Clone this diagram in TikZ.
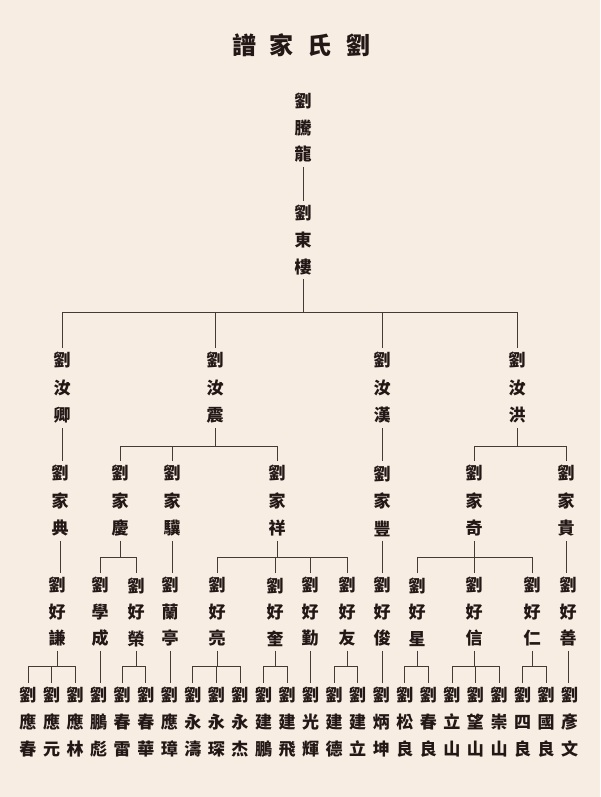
\documentclass[tikz,border=0pt]{standalone}
\usepackage{fontspec}
\usepackage{tikz}
\usepackage[dvipsnames]{xcolor}
\newfontfamily\cjk{Noto Sans CJK TC}
\definecolor{paper}{HTML}{F7EDE3}
\definecolor{ink}{HTML}{231815}
\tikzset{person/.style = {font=\cjk\bfseries\fontsize{17}{#1}\selectfont, text=ink, align=center, inner sep=4pt}, person/.default=27}
\tikzset{kin/.style = {draw=ink!85, line width=0.8pt}}
% parent, bar height, children
\newcommand{\branch}[3]{%
  \draw [kin] (#1.south) -- (#1.south |- 0,#2);
  \foreach \c in {#3} \draw [kin] (\c.north) |- (#1.south |- 0,#2);}
% parent, only child
\newcommand{\single}[2]{\draw [kin] (#1.south) -- (#1.south |- #2.north);}

\begin{document}
\begin{tikzpicture}[x=1pt,y=-1pt]
        \fill [paper] (0,0) rectangle (600,797);
        \useasboundingbox (0,0) rectangle (600,797);
        \node [text=ink, font=\cjk\bfseries\fontsize{24}{24}\selectfont] (title) at (301,45) {譜\hspace{14pt}家\hspace{14pt}氏\hspace{14pt}劉};
        \node [person=26.5] (tenglong) at (303,128) {劉\\騰\\龍};
        \node [person=27] (donglou) at (303,240) {劉\\東\\樓};
        \single{tenglong}{donglou}
        % first generation
        \node [person=27.5] (ruqing) at (62,388) {劉\\汝\\卿};
        \node [person=27.5] (ruzhen) at (215,388) {劉\\汝\\震};
        \node [person=27.5] (ruhan) at (382,388) {劉\\汝\\漢};
        \node [person=27.5] (ruhong) at (517,388) {劉\\汝\\洪};
        \branch{donglou}{312}{ruqing,ruzhen,ruhan,ruhong}
        % second generation
        \node [person=27.5] (jiadian) at (60,501) {劉\\家\\典};
        \node [person=27.5] (jiaqing) at (120,501) {劉\\家\\慶};
        \node [person=27.5] (jiaji) at (172,501) {劉\\家\\驥};
        \node [person=27.5] (jiaxiang) at (277,501) {劉\\家\\祥};
        \node [person=27.5] (jiafeng) at (382,501) {劉\\家\\豐};
        \node [person=27.5] (jiaqi) at (474,501) {劉\\家\\奇};
        \node [person=27.5] (jiagui) at (566,501) {劉\\家\\貴};
        \single{ruqing}{jiadian}
        \branch{ruzhen}{446}{jiaqing,jiaji,jiaxiang}
        \single{ruhan}{jiafeng}
        \branch{ruhong}{446}{jiaqi,jiagui}
        % third generation
        \node [person=26.5] (haoqian) at (57,612) {劉\\好\\謙};
        \node [person=26.5] (xuecheng) at (100,612) {劉\\學\\成};
        \node [person=26.5] (haorong) at (136,612) {劉\\好\\榮};
        \node [person=26.5] (lanting) at (170,612) {劉\\蘭\\亭};
        \node [person=26.5] (haoliang) at (217,612) {劉\\好\\亮};
        \node [person=26.5] (haokui) at (275,612) {劉\\好\\奎};
        \node [person=26.5] (haoqin) at (310,612) {劉\\好\\勤};
        \node [person=26.5] (haoyou) at (347,612) {劉\\好\\友};
        \node [person=26.5] (haojun) at (382,612) {劉\\好\\俊};
        \node [person=26.5] (haoxing) at (417,612) {劉\\好\\星};
        \node [person=26.5] (haoxin) at (474,612) {劉\\好\\信};
        \node [person=26.5] (haoren) at (532,612) {劉\\好\\仁};
        \node [person=26.5] (haoshan) at (568,612) {劉\\好\\善};
        \single{jiadian}{haoqian}
        \branch{jiaqing}{557}{xuecheng,haorong}
        \single{jiaji}{lanting}
        \branch{jiaxiang}{557}{haoliang,haokui,haoqin,haoyou}
        \single{jiafeng}{haojun}
        \branch{jiaqi}{557}{haoxing,haoxin,haoren}
        \single{jiagui}{haoshan}
        % fourth generation
        \foreach \a/\b [count=\i] in {應/春,應/元,應/林,鵬/彪,春/雷,春/華,應/璋,永/濤,永/琛,永/杰,建/鵬,建/飛,光/輝,建/德,建/立,炳/坤,松/良,春/良,立/山,望/山,崇/山,四/良,國/良,彥/文}
            \node [person] (b\i) at ({28+23.55*(\i-1)},722) {劉\\\a\\\b};
        \branch{haoqian}{666}{b1,b2,b3}
        \single{xuecheng}{b4}
        \branch{haorong}{666}{b5,b6}
        \single{lanting}{b7}
        \branch{haoliang}{666}{b8,b9,b10}
        \branch{haokui}{666}{b11,b12}
        \single{haoqin}{b13}
        \branch{haoyou}{666}{b14,b15}
        \single{haojun}{b16}
        \branch{haoxing}{666}{b17,b18}
        \branch{haoxin}{666}{b19,b20,b21}
        \branch{haoren}{666}{b22,b23}
        \single{haoshan}{b24}
    \end{tikzpicture}
\end{document}
